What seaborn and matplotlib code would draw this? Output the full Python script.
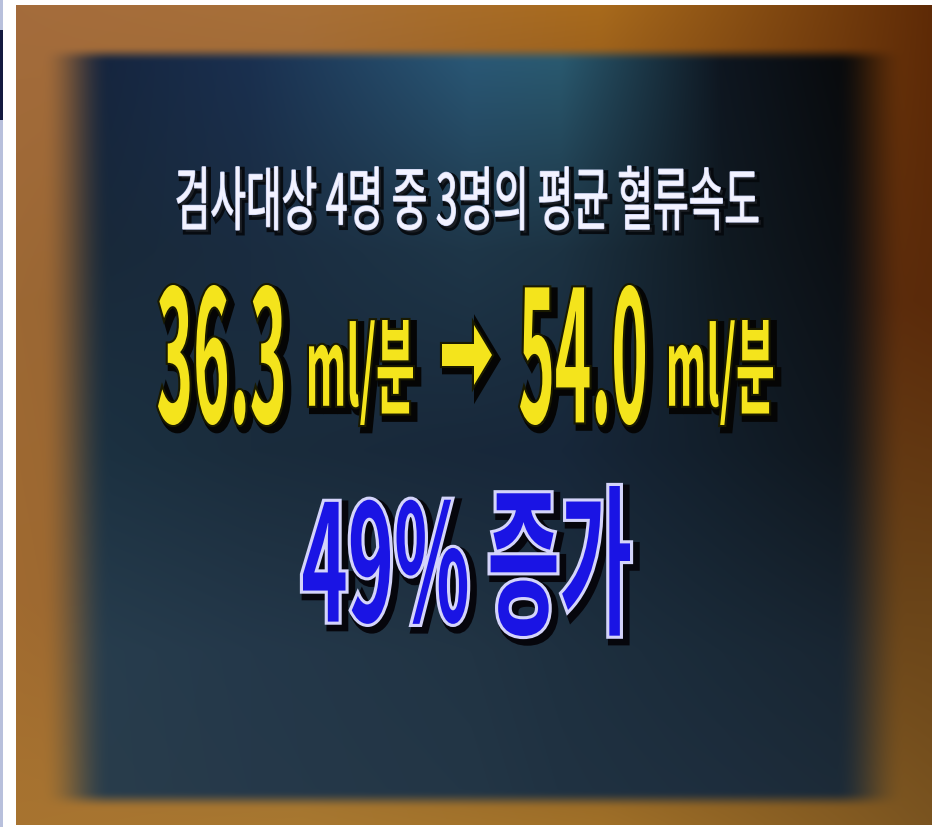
import numpy as np
import matplotlib
matplotlib.use('Agg')
import matplotlib.pyplot as plt
import matplotlib.patheffects as pe
from matplotlib.textpath import TextPath
from matplotlib.patches import PathPatch, Rectangle, FancyArrow
from matplotlib.font_manager import FontProperties
from matplotlib.transforms import Affine2D
import seaborn as sns

# ------------------------------
# Данные (значения с экрана)
# ------------------------------
n_total = 4
n_subset = 3
flow_before = 36.3      # ml/분
flow_after = 54.0       # ml/분
unit = 'ml/분'
pct_increase = round((flow_after - flow_before) / flow_before * 100)   # 49

title_text = f'검사대상 {n_total}명 중 {n_subset}명의 평균 혈류속도'
result_text = f'{pct_increase}% 증가'

# ------------------------------
# Фон (цвета "фото")
# ------------------------------
W, H = 932, 827
ph_x0, ph_x1, ph_y0, ph_y1 = 16, 932, 5, 825

# опорные цвета тёмной панели: строки по y, столбцы по x
panel_ys = [55, 250, 450, 650, 800]
panel_xs = [60, 250, 470, 560, 720, 880]
panel_cols = np.array([
    ['#14223a', '#1a3050', '#2a5876', '#2a5a70', '#0e1620', '#070707'],
    ['#182838', '#1a2c40', '#1e3648', '#1c3242', '#101a22', '#0a0c10'],
    ['#1c3242', '#1a2c3c', '#18283a', '#17273a', '#121e2a', '#0e141a'],
    ['#283e4e', '#24384a', '#213444', '#1e3040', '#1a2a38', '#182430'],
    ['#2a3e4c', '#26394a', '#233646', '#203242', '#1e2e3e', '#1c2a36'],
])
border_ys = [5, 300, 600, 825]
border_xs = [16, 300, 600, 932]
border_cols = np.array([
    ['#a46c3c', '#a87038', '#a86a1c', '#5e2a06'],
    ['#9c6834', '#8a5a30', '#6a3a18', '#5a2a0a'],
    ['#a06a30', '#8a6030', '#6a4420', '#6a4418'],
    ['#a87430', '#a87830', '#a07028', '#7a5420'],
])


def hex_grid(cols):
    return np.array([[matplotlib.colors.to_rgb(c) for c in row] for row in cols])


def bilinear(grid, ys, xs, yy, xx):
    out = np.zeros((len(yy), len(xx), 3))
    for ch in range(3):
        rows = np.array([np.interp(xx, xs, grid[i, :, ch]) for i in range(len(ys))])
        for j in range(len(xx)):
            out[:, j, ch] = np.interp(yy, ys, rows[:, j])
    return out


def smooth(t):
    t = np.clip(t, 0, 1)
    return t * t * (3 - 2 * t)


yy = np.arange(ph_y0, ph_y1, 2.0)
xx = np.arange(ph_x0, ph_x1, 2.0)
panel = bilinear(hex_grid(panel_cols), panel_ys, panel_xs, yy, xx)
border = bilinear(hex_grid(border_cols), border_ys, border_xs, yy, xx)

mx = smooth((xx - 40) / 70) * smooth((905 - xx) / 70)
my = smooth((yy - 45) / 16) * smooth((808 - yy) / 18)
mask = (my[:, None] * mx[None, :])[..., None]
bg = border * (1 - mask) + panel * mask

# ------------------------------
# Рисунок
# ------------------------------
sns.set_theme(style='white')
plt.rcParams['font.family'] = ['Noto Sans CJK KR', 'DejaVu Sans']

fig = plt.figure(figsize=(W / 100, H / 100), dpi=100)
fig.patch.set_facecolor('white')
ax = fig.add_axes([0, 0, 1, 1])
ax.set_xlim(0, W)
ax.set_ylim(H, 0)
ax.axis('off')

ax.imshow(bg, extent=[ph_x0, ph_x1, ph_y1, ph_y0], interpolation='bicubic', aspect='auto')

# тонкая полоска слева
ax.add_patch(Rectangle((0, 0), 2.5, H, color='#b8c0dc', lw=0))
ax.add_patch(Rectangle((0, 30), 2.5, 90, color='#141a40', lw=0))

fp_bold = FontProperties(family='Noto Sans CJK KR', weight='bold')
fp_med = FontProperties(family='Noto Sans CJK KR', weight='medium')


def fit_text(s, x0, x1, ytop, ybot, face, effects, fp=fp_bold):
    tp = TextPath((0, 0), s, size=100, prop=fp)
    bb = tp.get_extents()
    sx = (x1 - x0) / bb.width
    sy = (ybot - ytop) / bb.height
    tr = Affine2D().translate(-bb.x0, -bb.y1).scale(sx, -sy).translate(x0, ytop)
    patch = PathPatch(tr.transform_path(tp), facecolor=face, edgecolor='none',
                      lw=0, transform=ax.transData)
    patch.set_path_effects(effects)
    ax.add_patch(patch)


white_fx = [pe.Stroke(offset=(2, -2), linewidth=4, foreground='#05080c', alpha=0.9),
            pe.Stroke(linewidth=1.0, foreground='#c8d0f0'), pe.Normal()]
yellow_fx = [pe.Stroke(offset=(3, -3), linewidth=6, foreground='#050505'),
             pe.Stroke(linewidth=3, foreground='#1a1a00'), pe.Normal()]
blue_fx = [pe.Stroke(offset=(3, -3), linewidth=8, foreground='#06060c'),
           pe.Stroke(linewidth=4.5, foreground='#d4d4fa'), pe.Normal()]

# заголовок
fit_text(title_text, 177, 758, 166, 230, '#f2f2ff', white_fx, fp=fp_med)

# 36.3 ml/분 → 54.0 ml/분
yellow = '#f4e41c'
fit_text(f'{flow_before:.1f}', 158, 283, 285, 425, yellow, yellow_fx)
fit_text(unit, 309, 413, 320, 425, yellow, yellow_fx)
fit_text(f'{flow_after:.1f}', 520, 645, 285, 425, yellow, yellow_fx)
fit_text(unit, 669, 773, 320, 425, yellow, yellow_fx)

arrow = FancyArrow(442, 355, 50, 0, width=22, head_width=60, head_length=18,
                   length_includes_head=True, facecolor=yellow, edgecolor='none')
arrow.set_path_effects(yellow_fx)
ax.add_patch(arrow)

# 49% 증가
fit_text(result_text, 303, 630, 486, 636, '#1a14e4', blue_fx)

plt.savefig('out.png', dpi=100, facecolor=fig.get_facecolor())
plt.close()
